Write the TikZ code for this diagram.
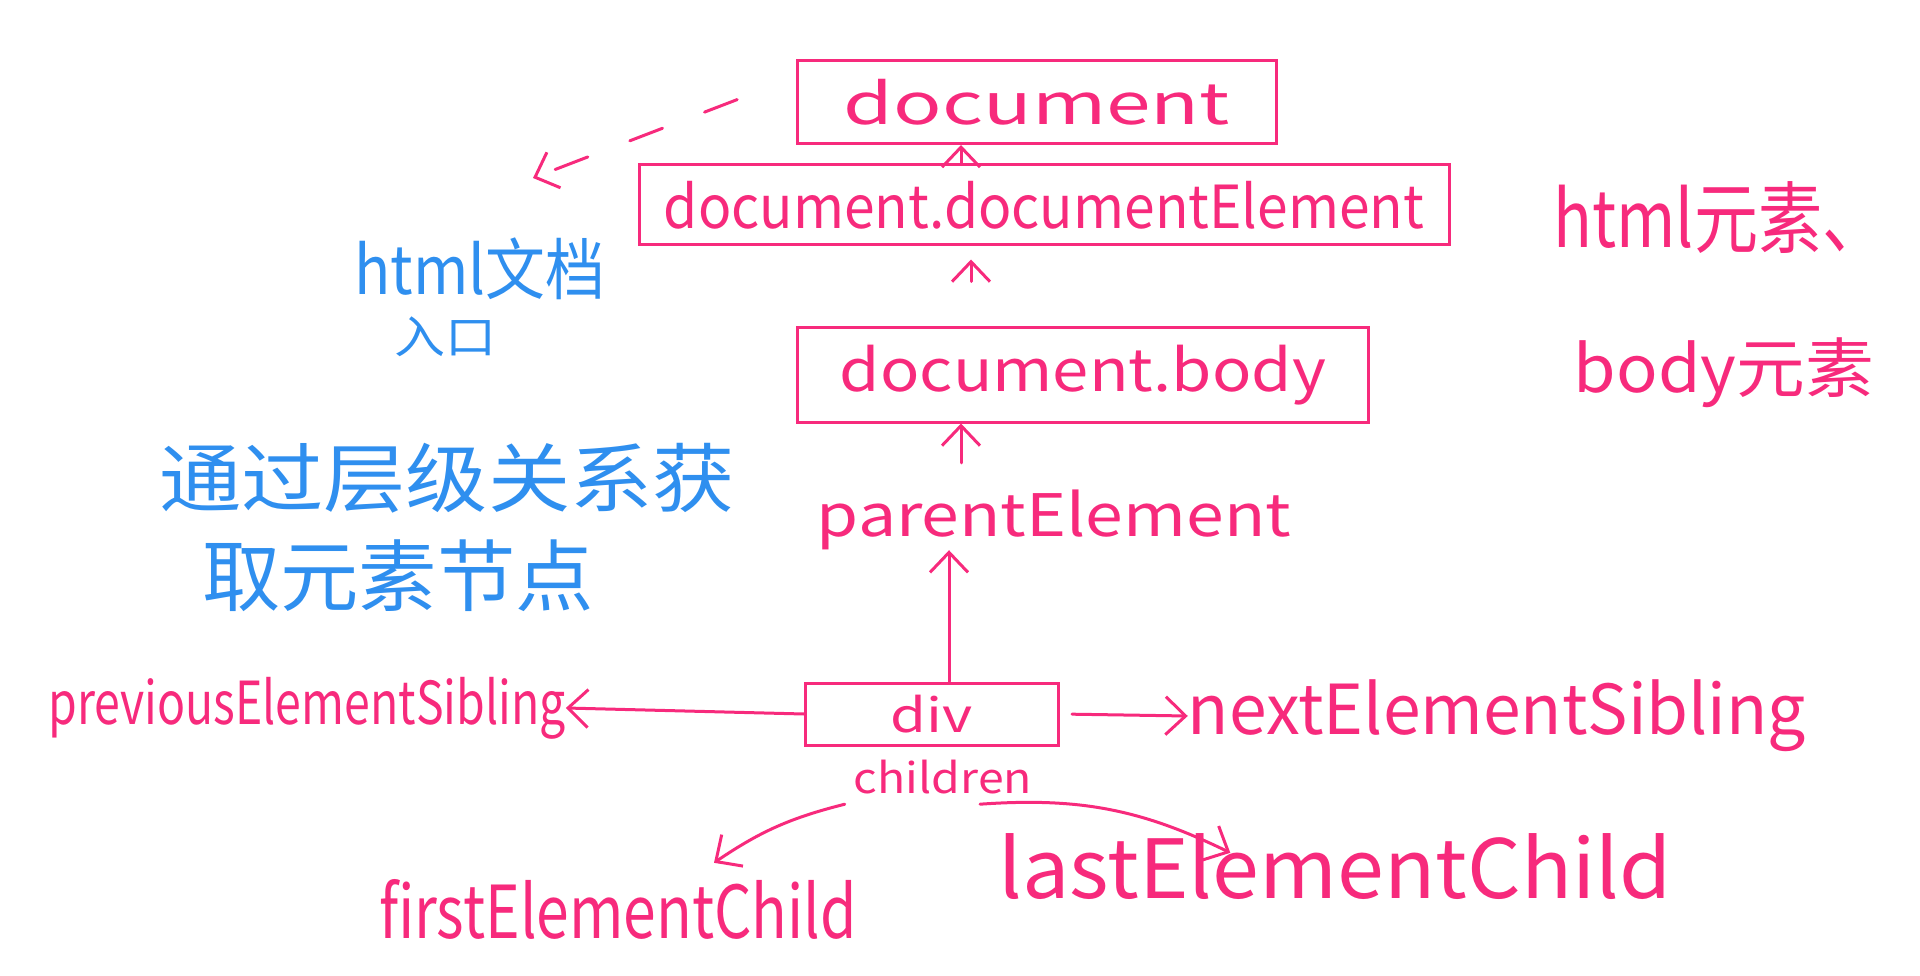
\documentclass[tikz,border=0pt]{standalone}
\usepackage{fontspec}
\setmainfont{Noto Sans CJK SC}
\usepackage{graphicx}
\usetikzlibrary{arrows.meta,calc}
\definecolor{pk}{HTML}{F72A7C}
\definecolor{bl}{HTML}{2F8FEF}
\newcommand{\hwtext}[3]{\resizebox*{#1pt}{#2pt}{#3}}
\begin{document}
\begin{tikzpicture}[x=1pt,y=-1pt,
  box/.style={draw=pk, line width=3pt, text=pk, rectangle, inner sep=0pt},
  lbl/.style={text=pk, inner sep=0pt},
  blbl/.style={text=bl, inner sep=0pt},
  arr/.style={draw=pk, line width=3pt, line cap=round, -{Straight Barb[length=20pt,width=38pt,line width=3pt]}},
  dasharr/.style={arr, dash pattern=on 35pt off 45pt}]
\useasboundingbox (0,0) rectangle (1920,976);
% boxes
\node[box, minimum width=479pt, minimum height=83pt] (docBox) at (1037,102) {\hwtext{386}{46}{document}};
\node[box, minimum width=810pt, minimum height=80pt] (deBox) at (1044,205) {\hwtext{760}{48}{document.documentElement}};
\node[box, minimum width=571pt, minimum height=94pt] (bodyBox) at (1083,375) {\hwtext{486}{60}{document.body}};
\node[lbl] (parent) at (1054,520) {\hwtext{474}{60}{parentElement}};
\node[box, minimum width=253pt, minimum height=62pt] (divBox) at (932,714) {\hwtext{82}{38}{div}};
\node[lbl] (children) at (943,777) {\hwtext{178}{34}{children}};
\node[lbl] (prev) at (307,708) {\hwtext{517}{62}{previousElementSibling}};
\node[lbl] (next) at (1497,716) {\hwtext{618}{72}{nextElementSibling}};
\node[lbl] (first) at (618,909) {\hwtext{478}{60}{firstElementChild}};
\node[lbl] (last) at (1335,867) {\hwtext{673}{66}{lastElementChild}};
% blue notes
\node[blbl] (htmlDoc) at (480,269) {\hwtext{251}{62}{html文档}};
\node[blbl] (entry) at (445,337) {\hwtext{102}{40}{入口}};
\node[blbl] (note1) at (447,478) {\hwtext{576}{70}{通过层级关系获}};
\node[blbl] (note2) at (398,576) {\hwtext{392}{72}{取元素节点}};
% pink notes
\node[lbl] (htmlEl) at (1720,218) {\hwtext{333}{72}{html元素、}};
\node[lbl] (bodyEl) at (1724,373) {\hwtext{300}{70}{body元素}};
% connectors
\coordinate (spineA) at (961,0);
\coordinate (spineB) at (971,0);
\coordinate (spineC) at (949,0);
\coordinate (dashEnd) at (533,178);
\draw[arr] (deBox.north -| spineA) -- (docBox.south -| spineA);
\draw[arr, shorten <=45pt, shorten >=13pt] (bodyBox.north -| spineB) -- (deBox.south -| spineB);
\draw[arr, shorten <=27pt] (parent.north -| spineA) -- (bodyBox.south -| spineA);
\draw[arr] (divBox.north -| spineC) -- (parent.south -| spineC);
\draw[arr] (divBox.west) -- (prev.east);
\draw[arr, shorten <=12pt] (divBox.east) -- (next.west);
\draw[arr] ($(children.south west)+(-9,10)$) to[bend right=10] ($(first.north)+(96,-16)$);
\draw[arr] ($(children.south)+(37,10)$) to[bend left=15] ($(last.north west)+(232,19)$);
\draw[dasharr, shorten <=63pt] ([yshift=25pt]docBox.west) -- (dashEnd);
\end{tikzpicture}
\end{document}
